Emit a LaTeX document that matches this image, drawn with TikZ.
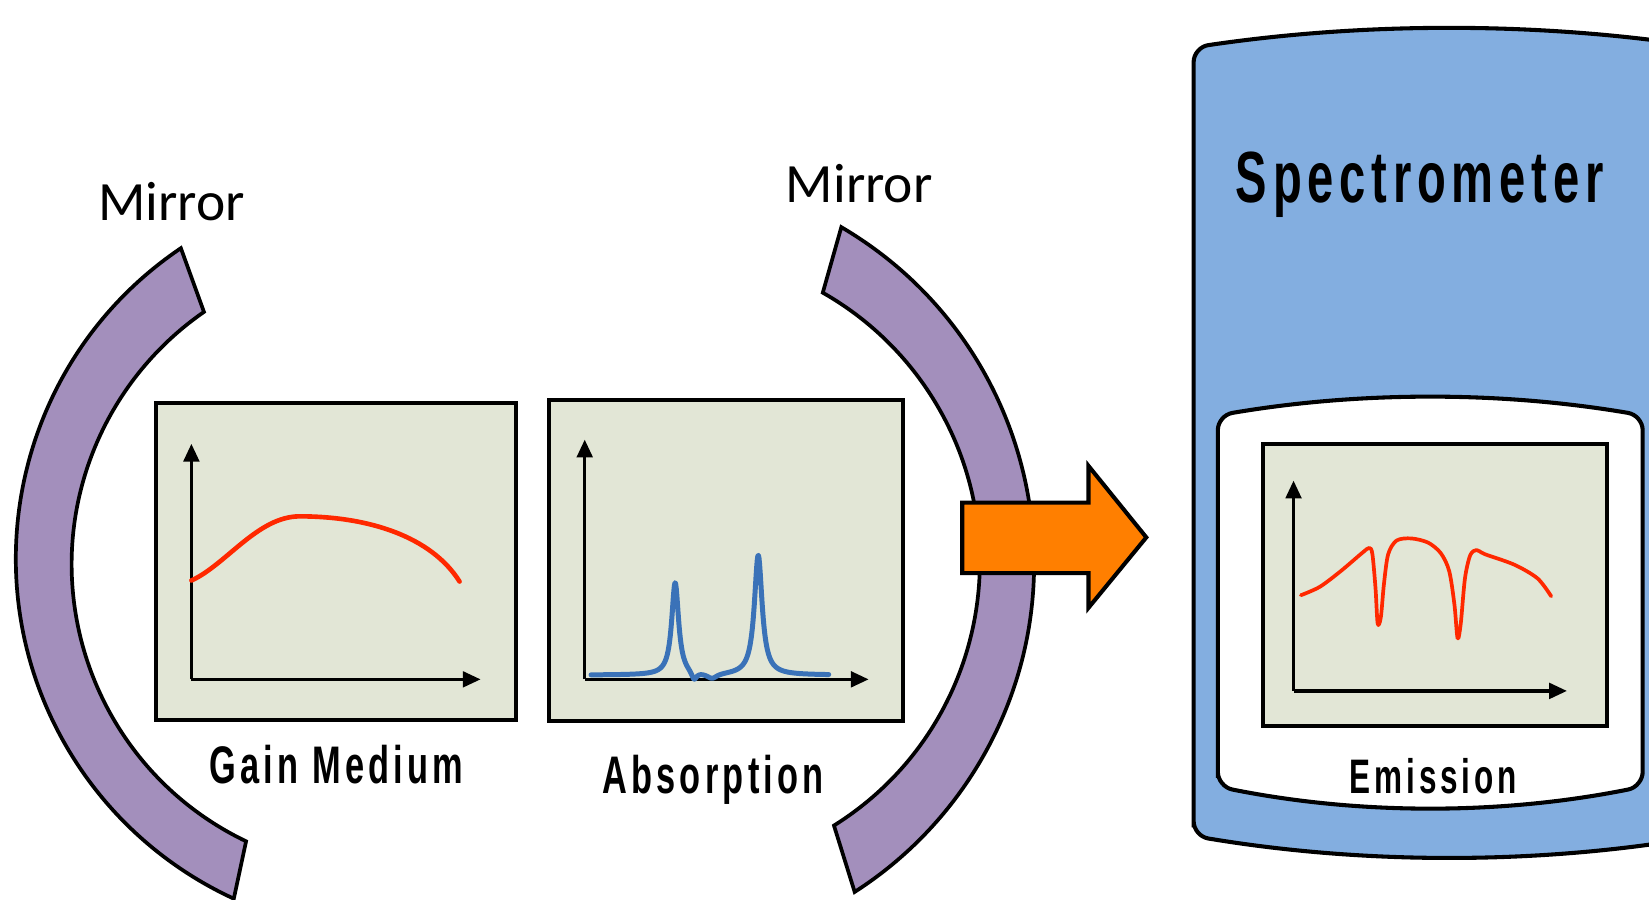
\documentclass[tikz,border=0pt]{standalone}
\usepackage{fontspec}
\newfontfamily\mirrorfont{Carlito}
\newfontfamily\labelfont{Liberation Sans Bold}[FakeStretch=0.65,LetterSpace=8]
\usetikzlibrary{arrows.meta}
\definecolor{mirrorPurple}{RGB}{163,143,188}
\definecolor{specBlue}{RGB}{131,174,224}
\definecolor{panelFill}{RGB}{226,230,214}
\definecolor{curveRed}{RGB}{255,40,0}
\definecolor{curveBlue}{RGB}{58,114,184}
\definecolor{beamOrange}{RGB}{255,127,0}

\begin{document}
\begin{tikzpicture}[x=0.01cm, y=0.01cm,
    mirror/.style={draw=black, line width=1pt, fill=mirrorPurple},
    panel/.style={draw=black, line width=1.1pt, fill=panelFill},
    axis/.style={line width=0.9pt, -{Triangle[length=4.8pt,width=4.2pt]}},
    lbl/.style={anchor=base, inner sep=0pt}]
    \useasboundingbox (0,0) rectangle (1568,855);
    \clip (0,0) rectangle (1568,855);
    % left mirror
    \draw[mirror] (172,619) arc[start angle=124, end angle=245.3, radius=356]
      -- (234,55) arc[start angle=244.4, end angle=124.7, radius=292] -- cycle;
    \node[lbl] (mirrorL) at (163,645) {\mirrorfont\fontsize{15}{18}\selectfont Mirror};
    % right mirror
    \draw[mirror] (800,639) arc[start angle=59.6, end angle=-57.3, radius=371]
      -- (793,70) arc[start angle=-58, end angle=60.4, radius=295] -- cycle;
    \node[lbl] (mirrorR) at (817,662) {\mirrorfont\fontsize{15}{18}\selectfont Mirror};
    % gain medium panel
    \draw[panel] (148,170) rectangle (491,472);
    \draw[axis] (182,209) -- (182,433);
    \draw[axis] (182,209) -- (457,209);
    \draw[curveRed, line width=1.25pt, line cap=round] (182,303)
      .. controls (215,318) and (245,364) .. (285,364)
      .. controls (350,364) and (410,345) .. (437,302);
    \node[lbl] (gain) at (320,110) {\labelfont\fontsize{14.3}{17}\selectfont Gain Medium};
    % absorption panel
    \draw[panel] (522,169) rectangle (859,475);
    \draw[axis] (556,209) -- (556,437);
    \draw[axis] (556,209) -- (826,209);
    \draw[curveBlue, line width=1.35pt, line cap=round, line join=round, samples=400, domain=562:788]
      plot (\x, {213 + 88/(1+((\x-642)/4)^2) + 114/(1+((\x-721)/4.5)^2)
                 - 8/(1+((\x-660)/3)^2) - 5/(1+((\x-677)/6)^2)});
    \node[lbl] (absorb) at (678,100) {\labelfont\fontsize{14.3}{17}\selectfont Absorption};
    % output beam
    \draw[fill=beamOrange, line width=1.1pt] (915,310) -- (1035,310) -- (1035,277) -- (1090,344)
      -- (1035,412) -- (1035,377) -- (915,377) -- cycle;
    % spectrometer body
    \draw[fill=specBlue, line width=1.1pt, rounded corners=4] (1135,60) -- (1135,810)
      .. controls (1297,834) and (1459,834) .. (1621,810) -- (1621,60)
      .. controls (1459,33) and (1297,33) .. (1135,60) -- cycle;
    \node[lbl] (spec) at (1350,662) {\labelfont\fontsize{19.6}{24}\selectfont Spectrometer};
    \draw[fill=white, line width=1.1pt, rounded corners=4] (1158,107) -- (1158,460)
      .. controls (1293,483) and (1427,483) .. (1562,460) -- (1562,107)
      .. controls (1427,80) and (1293,80) .. (1158,107) -- cycle;
    % emission panel
    \draw[panel] (1201,165) rectangle (1528,433);
    \draw[axis] (1230,198) -- (1230,398);
    \draw[axis] (1230,198) -- (1490,198);
    \draw[curveRed, line width=1pt, line cap=round, line join=round] plot[smooth, tension=0.5]
      coordinates {(1237,289) (1255,297) (1275,312) (1295,329) (1302,334) (1305,328) (1308,295)
        (1310,262) (1313,268) (1316,300) (1320,328) (1328,341) (1342,343) (1358,339) (1370,329)
        (1378,312) (1383,280) (1386,248) (1389,262) (1393,305) (1398,327) (1404,332) (1412,328)
        (1440,318) (1462,305) (1475,288)};
    \node[lbl] (emit) at (1363,100) {\labelfont\fontsize{13.1}{16}\selectfont Emission};
\end{tikzpicture}
\end{document}
